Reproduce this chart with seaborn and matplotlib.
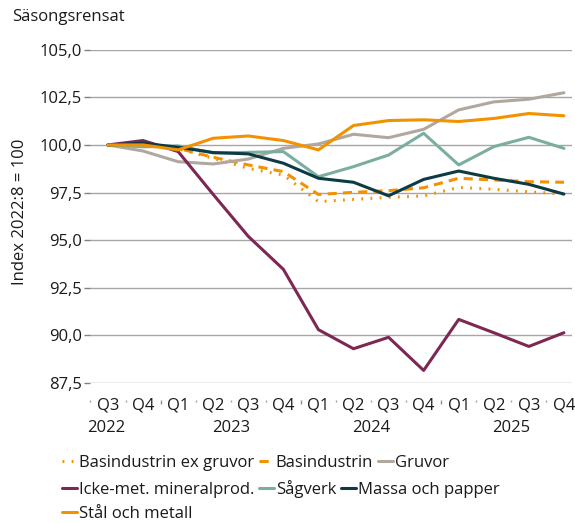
import matplotlib
matplotlib.use("Agg")
import matplotlib.pyplot as plt
import seaborn as sns
import pandas as pd
from matplotlib.lines import Line2D
import matplotlib.transforms as mtransforms

quarters = ["Q3", "Q4", "Q1", "Q2", "Q3", "Q4", "Q1", "Q2", "Q3", "Q4", "Q1", "Q2", "Q3", "Q4"]
years = ["2022", "2023", "2024", "2025"]
year_pos = [-0.04, 3.5, 7.5, 11.5]

basind_ex_gruvor = [100.0, 99.95, 99.8, 99.3, 98.77, 98.42, 97.02, 97.14, 97.25, 97.32, 97.77, 97.67, 97.54, 97.42]
basindustrin = [100.0, 100.0, 99.82, 99.35, 98.95, 98.6, 97.4, 97.51, 97.6, 97.75, 98.25, 98.16, 98.07, 98.04]
gruvor = [100.0, 99.68, 99.12, 99.0, 99.26, 99.82, 100.05, 100.56, 100.38, 100.82, 101.84, 102.26, 102.4, 102.74]
icke_met = [100.0, 100.23, 99.65, 97.4, 95.2, 93.47, 90.3, 89.3, 89.9, 88.16, 90.84, 90.14, 89.42, 90.14]
sagverk = [100.0, 99.9, 99.95, 99.58, 99.61, 99.65, 98.33, 98.86, 99.47, 100.61, 98.95, 99.91, 100.4, 99.82]
massa = [100.0, 100.09, 99.88, 99.6, 99.53, 99.04, 98.25, 98.04, 97.33, 98.19, 98.63, 98.25, 97.93, 97.42]
stal = [100.0, 100.0, 99.74, 100.35, 100.47, 100.23, 99.74, 101.02, 101.28, 101.32, 101.23, 101.39, 101.65, 101.53]

series = [
    ("Basindustrin ex gruvor", basind_ex_gruvor, "#F39200", (0, (0.6, 2.4))),
    ("Basindustrin", basindustrin, "#F39200", (0, (3, 2))),
    ("Gruvor", gruvor, "#B0A89E", "-"),
    ("Icke-met. mineralprod.", icke_met, "#7C2853", "-"),
    ("Sågverk", sagverk, "#7AAFA0", "-"),
    ("Massa och papper", massa, "#0D3B45", "-"),
    ("Stål och metall", stal, "#F39200", "-"),
]

sns.set_theme(style="white")
plt.rcParams["font.family"] = ["Open Sans", "DejaVu Sans"]
plt.rcParams["font.size"] = 12

fig = plt.figure(figsize=(5.75, 5.23), dpi=100)
ax = fig.add_axes([90 / 575, 1 - 383 / 523, 482 / 575, (383 - 49.7) / 523])

handles = {}
for name, vals, color, ls in series:
    df = pd.DataFrame({"x": list(range(len(vals))), "y": vals})
    sns.lineplot(data=df, x="x", y="y", ax=ax, color=color, linestyle=ls,
                 linewidth=2.2, legend=False)
    handles[name] = Line2D([0], [0], color=color, linestyle=ls, linewidth=2.2)

ax.set_ylim(87.5, 105)
ax.set_xlim(-0.513, 13.23)
yt = [87.5, 90, 92.5, 95, 97.5, 100, 102.5, 105]
ax.set_yticks(yt)
ax.set_yticklabels([f"{v:.1f}".replace(".", ",") for v in yt], fontsize=12, color="#1a1a1a")
ax.yaxis.grid(True, color="#A6A6A6", linewidth=1.0)
ax.set_axisbelow(True)
for s in ["top", "right", "left"]:
    ax.spines[s].set_visible(False)
ax.spines["bottom"].set_position(("outward", 12))
ax.spines["bottom"].set_visible(False)
ax.tick_params(axis="y", length=4, color="#808080", width=1, pad=2, left=True)

major = [1.5, 5.5, 9.5]
minor = [-0.5, 0.5, 2.5, 3.5, 4.5, 6.5, 7.5, 8.5, 10.5, 11.5, 12.5]
ax.set_xticks(major)
ax.set_xticks(minor, minor=True)
ax.set_xticklabels([])
ax.tick_params(axis="x", which="major", length=3, color="#909090", width=1, bottom=True, direction="out")
ax.tick_params(axis="x", which="minor", length=1.5, color="#A0A0A0", width=1, bottom=True, direction="out")
ax.set_xlabel("")

trans = mtransforms.blended_transform_factory(ax.transData, fig.transFigure)
for i, q in enumerate(quarters):
    ax.text(i, 1 - 406 / 523, q, transform=trans, ha="center", va="center", fontsize=12, color="#1a1a1a")
for p, y in zip(year_pos, years):
    ax.text(p, 1 - 428 / 523, y, transform=trans, ha="center", va="center", fontsize=12, color="#1a1a1a")

ax.set_ylabel("Index 2022:8 = 100", fontsize=12, color="#1a1a1a")
ax.yaxis.set_label_coords(-0.129, 0.513)

fig.text(12 / 575, 1 - 17 / 523, "Säsongsrensat", ha="left", va="center", fontsize=12, color="#1a1a1a")

rows = [
    (["Basindustrin ex gruvor", "Basindustrin", "Gruvor"], 463),
    (["Icke-met. mineralprod.", "Sågverk", "Massa och papper"], 489),
    (["Stål och metall"], 514),
]
for names, ypix in rows:
    leg = fig.legend([handles[n] for n in names], names, loc="center left",
                     bbox_to_anchor=(62 / 575, 1 - ypix / 523), ncol=len(names),
                     frameon=False, fontsize=12, handlelength=0.9, handletextpad=0.1,
                     columnspacing=0.3, borderpad=0, borderaxespad=0)
    for t in leg.get_texts():
        t.set_color("#1a1a1a")

fig.savefig("out.png", dpi=100)
